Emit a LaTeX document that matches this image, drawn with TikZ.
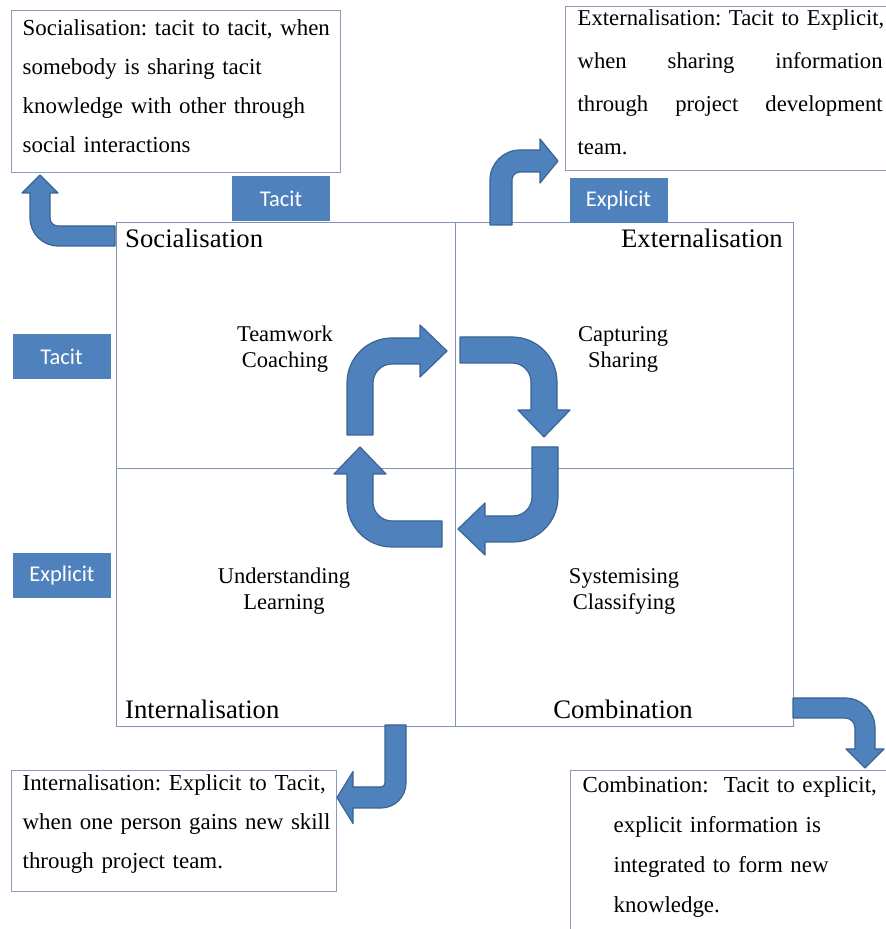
\documentclass[tikz,border=0pt]{standalone}
\usepackage{fontspec}
\setmainfont{Liberation Serif}
\newfontfamily\tagfont{Carlito}
\frenchspacing

\definecolor{blocbleu}{HTML}{4F81BD}
\definecolor{bordbleu}{HTML}{3B6494}
\definecolor{grille}{HTML}{8195B2}
\definecolor{cadre}{HTML}{8A9CB6}

% fleche coudee : position, rotation, largeur, rayon, branche 1, branche 2, demi-tete, longueur tete
\newcommand{\flechecoudee}[8]{%
  \filldraw[bloc, shift={#1}, rotate=#2] (0,0) -- (0,#5)
    arc[start angle=180, end angle=90, radius=#4] -- ++(#6,0)
    -- ++(0,{#7-#3/2}) -- ++(#8,{-#7}) -- ++({-#8},{-#7})
    -- ++(0,{#7-#3/2}) -- ++({-#6},0)
    arc[start angle=90, end angle=180, radius={#4-#3}] -- (#3,0) -- cycle;}
% ligne justifiee (trois mots)
\newcommand{\ligne}[3]{\makebox[305pt]{#1\hfill#2\hfill#3}}

\tikzset{
  bloc/.style={fill=blocbleu, draw=bordbleu, line width=1.2pt, line join=round},
  quadrant/.style={draw=grille, line width=1.4pt, anchor=north west, inner sep=0pt},
  note/.style={draw=cadre, line width=1.3pt, anchor=north west, align=left, inner ysep=0pt,
    font=\fontsize{22.9}{39}\selectfont},
  tag/.style={fill=blocbleu, text=white, font=\tagfont\fontsize{22.5}{26}\selectfont,
    minimum width=98pt, minimum height=45pt, inner sep=0pt},
  stage/.style={font=\fontsize{26.7}{30}\selectfont, inner sep=0pt},
  activity/.style={font=\fontsize{22.5}{26}\selectfont, align=center, inner sep=0pt},
}

\begin{document}
\begin{tikzpicture}[x=1pt, y=1pt]
  \fill[white] (0,0) rectangle (886,929);
  \useasboundingbox (0,0) rectangle (886,929);

  % Les quatre quadrants
  \node[quadrant, minimum width=339pt, minimum height=246pt] (soc) at (116,707) {};
  \node[quadrant, minimum width=338pt, minimum height=246pt] (ext) at (455,707) {};
  \node[quadrant, minimum width=339pt, minimum height=258pt] (int) at (116,461) {};
  \node[quadrant, minimum width=338pt, minimum height=258pt] (com) at (455,461) {};

  % Noms des quadrants
  \node[stage, anchor=base west] (socname) at (125,681) {Socialisation};
  \node[stage, anchor=base east] (extname) at (783,681) {Externalisation};
  \node[stage, anchor=base west] (intname) at (125,210) {Internalisation};
  \node[stage, anchor=base] (comname) at (623,210) {Combination};

  % Activites
  \node[activity] (socact) at (285,580) {Teamwork\\Coaching};
  \node[activity] (extact) at (623,580) {Capturing\\Sharing};
  \node[activity] (intact) at (284,338) {Understanding\\Learning};
  \node[activity] (comact) at (624,338) {Systemising\\Classifying};

  % Etiquettes bleues
  \node[tag] (tacittop) at (281,730.5) {Tacit};
  \node[tag] (explicittop) at (618.5,728.5) {Explicit};
  \node[tag] (tacitleft) at (61.5,572.5) {Tacit};
  \node[tag] (explicitleft) at (62,353) {Explicit};

  % Cadres explicatifs
  \node[note, minimum width=329pt, text width=307pt, inner xsep=11pt,
    text height=25pt, text depth=137pt] (socnote) at (11,919)
    {\mbox{Socialisation: tacit to tacit, when}\\ \mbox{somebody is sharing tacit}\\
     \mbox{knowledge with other through}\\ \mbox{social interactions}};
  \node[note, font=\fontsize{22.7}{43}\selectfont, text width=310pt, inner xsep=12pt,
    text height=19pt, text depth=145pt] (extnote) at (565,923)
    {\mbox{Externalisation: Tacit to Explicit,}\\ \ligne{when}{sharing}{information}\\
     \ligne{through}{project}{development}\\ team.};
  \node[note, minimum width=325pt, text width=303pt, inner xsep=11pt,
    text height=20pt, text depth=101pt] (intnote) at (11,159)
    {\mbox{Internalisation: Explicit to Tacit,}\\ \mbox{when one person gains new skill}\\
     \mbox{through project team.}};
  \node[note, font=\fontsize{22.9}{40}\selectfont, text width=310pt, inner xsep=12pt,
    text height=22pt, text depth=180pt] (comnote) at (570,159)
    {\mbox{Combination:~ Tacit to explicit,}\\ \hspace*{31pt}\mbox{explicit information is}\\
     \hspace*{31pt}\mbox{integrated to form new}\\ \hspace*{31pt}\mbox{knowledge.}};

  % Cycle central
  \flechecoudee{(347,494)}{0}{26}{45}{52}{28}{26}{27}
  \flechecoudee{(460,592)}{-90}{26}{45}{52}{28}{26}{27}
  \flechecoudee{(558,482)}{180}{26}{45}{50}{28}{26}{27}
  \flechecoudee{(442,382)}{90}{26}{45}{50}{28}{26}{27}

  % Fleches vers les cadres
  \flechecoudee{(115,683)}{90}{20}{28}{57}{25}{18}{18}
  \flechecoudee{(490,704)}{0}{22}{30}{45}{20}{22}{18}
  \flechecoudee{(406,204)}{180}{21}{25}{58}{28}{26}{16}
  \flechecoudee{(793,231)}{-90}{20}{30}{52}{21}{19}{19}
\end{tikzpicture}
\end{document}
